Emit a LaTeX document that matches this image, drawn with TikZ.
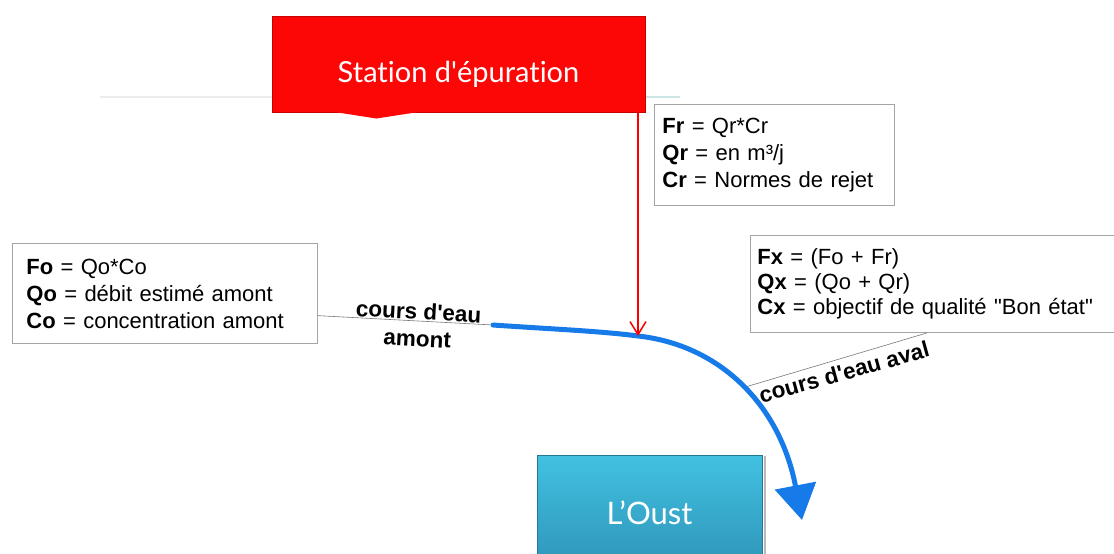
\documentclass[tikz,border=0pt]{standalone}
\usepackage{fontspec}
\setmainfont{Liberation Sans}
\newfontfamily\titlefont[Ligatures=NoCommon]{Lato}
\usetikzlibrary{arrows.meta,calc}
\definecolor{stred}{RGB}{252,6,6}
\definecolor{stredd}{RGB}{200,0,0}
\definecolor{ousttop}{RGB}{66,193,225}
\definecolor{oustbot}{RGB}{46,148,184}
\definecolor{river}{RGB}{22,122,232}
\definecolor{boxline}{RGB}{165,165,165}
\definecolor{conn}{RGB}{120,120,120}
\begin{document}
\begin{tikzpicture}[x=1pt,y=-1pt,
  infobox/.style={draw=boxline, line width=0.9pt, fill=white, anchor=north west,
    align=left, inner ysep=0pt, font=\fontsize{22}{27}\selectfont},
  titlebox/.style={text=white, font=\titlefont\fontsize{29}{34}\selectfont, inner sep=0pt},
  rlabel/.style={font=\bfseries\fontsize{22.5}{27}\selectfont, align=center, inner sep=1pt},
  connline/.style={draw=conn, line width=0.6pt},
  riverline/.style={draw=river, line width=5pt, line cap=round},
  feed/.style={draw=red, line width=1.5pt, -{Straight Barb[length=13pt,width=16pt]}}]
\clip (0,0) rectangle (1114,554);
\fill[white] (0,0) rectangle (1114,554);

% faint decoration line
\draw[gray!15, line width=1.5pt] (100,97) -- (272,97);
\draw[teal!20, line width=1.5pt] (645,97) -- (680,97);

% station
\node[titlebox, fill=stred, draw=stredd, line width=1pt,
      minimum width=373pt, minimum height=96pt, text height=42pt, text depth=6pt]
      (station) at (458.5,64) {Station d\textquotesingle épuration};
\fill[stred] ($(station.south west)+(63,-0.5)$) -- ($(station.south west)+(147,-0.5)$)
   -- ($(station.south west)+(105,6)$) -- cycle;

% L'Oust
\draw[gray!55, line width=2pt] (765,456) -- (765,554);
\node[titlebox, top color=ousttop, bottom color=oustbot, draw=oustbot!80!black, line width=0.8pt,
      minimum width=225pt, minimum height=115pt, font=\titlefont\fontsize{31}{36}\selectfont]
      (oust) at (649.5,512.5) {L’Oust};

% info boxes
\node[infobox, text width=277pt, inner xsep=14pt, minimum height=100pt] (fobox) at (12,243)
  {\textbf{Fo} = Qo*Co\\\textbf{Qo} = débit estimé amont\\\textbf{Co} = concentration amont};
\node[infobox, text width=224pt, inner xsep=8pt, minimum height=101pt] (frbox) at (654,104)
  {\textbf{Fr} = Qr*Cr\\\textbf{Qr} = en m³/j\\\textbf{Cr} = Normes de rejet};
\node[infobox, text width=366pt, inner xsep=7pt, minimum height=97pt,
      font=\fontsize{22}{25}\selectfont] (fxbox) at (750,235)
  {\textbf{Fx} = (Fo + Fr)\\\textbf{Qx} = (Qo + Qr)\\\textbf{Cx} = objectif de qualité \textquotedbl Bon état\textquotedbl};

% river
\coordinate (rs) at (493,325);
\coordinate (junction) at (638,336);
\coordinate (mouth) at (802,520);
\coordinate (av) at (742,388);
\draw[connline] ($(fobox.north east)!0.72!(fobox.south east)$) -- (rs);
\draw[connline] ($(fxbox.south west)+(177,0)$) -- (av);
\draw[riverline, -{Triangle[length=35pt,width=41pt]}]
  (rs) .. controls (550,329) and (600,331) .. (junction)
       .. controls (720,345) and (780,405) .. (mouth);

% feed from station
\draw[feed] (station.south -| junction) -- (junction);

% labels
\node[rlabel, rotate=-3] (amont) at (418,325) {cours d\textquotesingle eau\\amont};
\node[rlabel, rotate=15.5] (aval) at (844,372) {cours d\textquotesingle eau aval};
\end{tikzpicture}
\end{document}
